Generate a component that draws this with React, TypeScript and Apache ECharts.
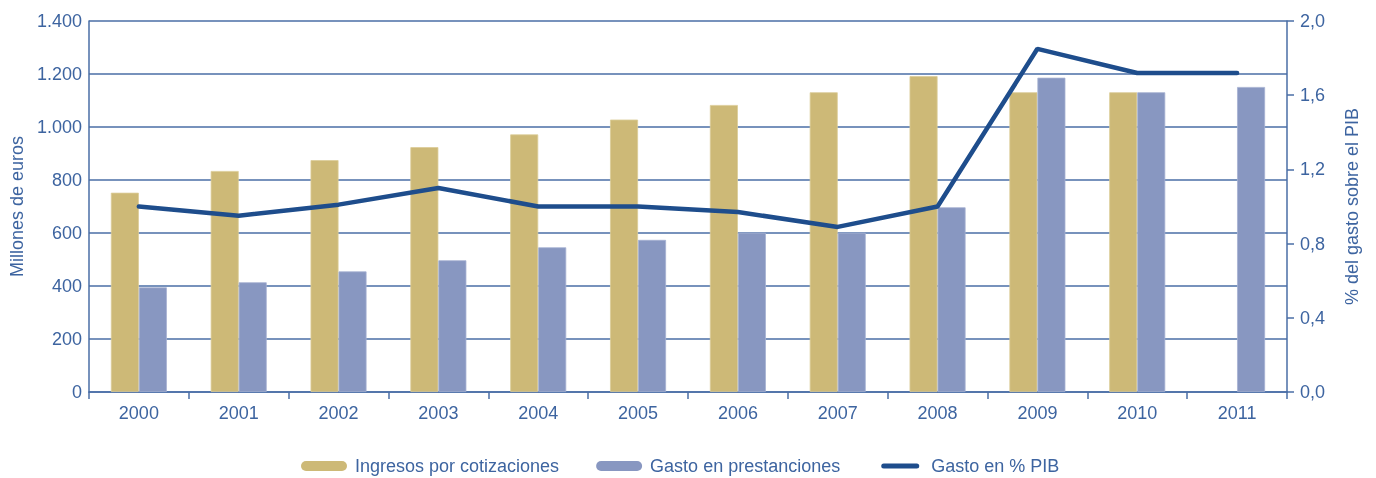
import React, { useEffect, useRef } from "react";
import * as echarts from "echarts";

const years = ["2000", "2001", "2002", "2003", "2004", "2005", "2006", "2007", "2008", "2009", "2010", "2011"];
const ingresos: (number | null)[] = [752, 834, 875, 924, 972, 1028, 1083, 1131, 1192, 1131, 1131, null];
const gasto: number[] = [395, 414, 455, 497, 546, 574, 601, 601, 697, 1186, 1131, 1151];
const gastoPIB: number[] = [1.0, 0.95, 1.01, 1.1, 1.0, 1.0, 0.97, 0.89, 1.0, 1.85, 1.72, 1.72];
const legendNames = ["Ingresos por cotizaciones", "Gasto en prestanciones", "Gasto en % PIB"];

const TXT = "#3d64a0";
const AXIS = "#4a6ea6";
const GOLD = "#cdb977";
const BLUE = "#8897c1";
const LINE = "#1e4d8c";
const FONT = "'Liberation Sans', Arial, sans-serif";

const PILL = "path://M5,0 L41,0 A5,5 0 0 1 41,10 L5,10 A5,5 0 0 1 5,0 Z";
const THIN = "path://M0,0 M46,10 M6.5,2.5 L39.5,2.5 A2.5,2.5 0 0 1 39.5,7.5 L6.5,7.5 A2.5,2.5 0 0 1 6.5,2.5 Z";

export default function App() {
  const ref = useRef<HTMLDivElement>(null);
  useEffect(() => {
    if (!ref.current) return;
    const chart = echarts.init(ref.current, undefined, { renderer: "svg" });
    chart.setOption({
      animation: false,
      textStyle: { fontFamily: FONT },
      grid: { left: 87, right: 89, top: 21, bottom: 86, containLabel: false },
      legend: {
        left: 301,
        top: 457,
        padding: 0,
        itemWidth: 46,
        itemHeight: 10,
        itemGap: 37,
        itemStyle: { borderWidth: 0 },
        textStyle: { color: TXT, fontSize: 18, fontFamily: FONT, padding: [0, 0, 0, 3] },
        data: [
          { name: legendNames[0], icon: PILL },
          { name: legendNames[1], icon: PILL },
          { name: legendNames[2], icon: THIN },
        ],
      },
      xAxis: {
        type: "category",
        data: years,
        axisLine: { show: true, lineStyle: { color: AXIS, width: 1.5 } },
        axisTick: { show: true, alignWithLabel: false, length: 7, lineStyle: { color: AXIS, width: 1.5 } },
        axisLabel: { color: TXT, fontSize: 18, margin: 12 },
      },
      yAxis: [
        {
          type: "value",
          min: 0,
          max: 1400,
          interval: 200,
          name: "Millones de euros",
          nameLocation: "middle",
          nameGap: 62,
          nameTextStyle: { color: TXT, fontSize: 18 },
          axisLine: { show: true, lineStyle: { color: AXIS, width: 1.5 } },
          axisTick: { show: false },
          axisLabel: {
            color: TXT,
            fontSize: 18,
            margin: 7,
            formatter: (v: number) => String(v).replace(/\B(?=(\d{3})+(?!\d))/g, "."),
          },
          splitLine: { show: true, lineStyle: { color: AXIS, width: 1.5 } },
        },
        {
          type: "value",
          min: 0,
          max: 2,
          interval: 0.4,
          position: "right",
          name: "% del gasto sobre el PIB",
          nameLocation: "middle",
          nameGap: 56,
          nameRotate: 90,
          nameTextStyle: { color: TXT, fontSize: 18 },
          axisLine: { show: true, lineStyle: { color: AXIS, width: 1.5 } },
          axisTick: { show: true, length: 7, lineStyle: { color: AXIS, width: 1.5 } },
          axisLabel: {
            color: TXT,
            fontSize: 18,
            margin: 13,
            formatter: (v: number) => v.toFixed(1).replace(".", ","),
          },
          splitLine: { show: false },
        },
      ],
      series: [
        {
          name: legendNames[0],
          type: "bar",
          data: ingresos,
          barWidth: 28,
          barGap: "0%",
          itemStyle: { color: GOLD, borderColor: "#dccd98", borderWidth: 0.8 },
        },
        {
          name: legendNames[1],
          type: "bar",
          data: gasto,
          barWidth: 28,
          itemStyle: { color: BLUE, borderColor: "#a6b1d2", borderWidth: 0.8 },
        },
        {
          name: legendNames[2],
          type: "line",
          yAxisIndex: 1,
          data: gastoPIB,
          symbol: "none",
          lineStyle: { color: LINE, width: 4.5, cap: "round" },
          itemStyle: { color: LINE },
        },
      ],
    });
    return () => chart.dispose();
  }, []);
  return <div ref={ref} style={{ position: "fixed", left: 0, top: 0, width: 1376, height: 478 }} />;
}
